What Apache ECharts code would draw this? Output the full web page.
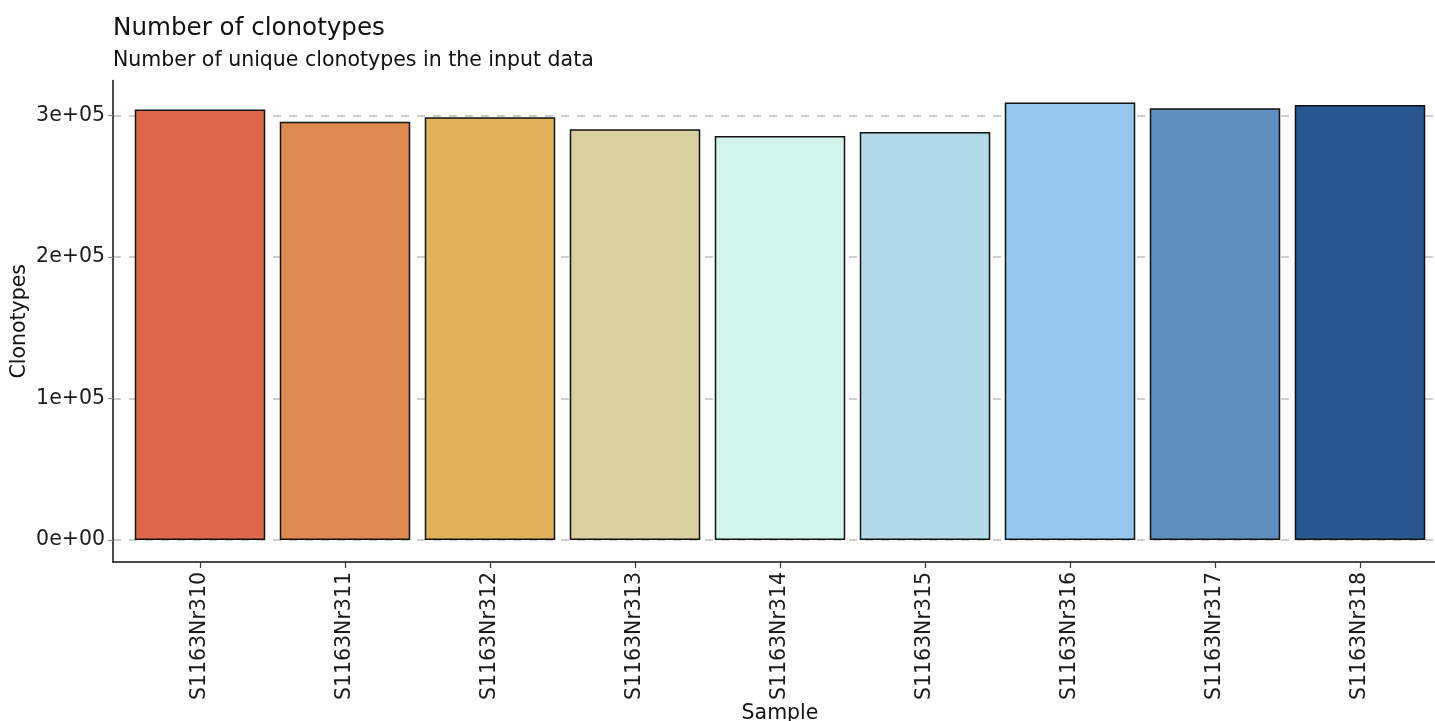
<!DOCTYPE html>
<html>
<head>
<meta charset="utf-8">
<script src="https://cdn.jsdelivr.net/npm/echarts@6/dist/echarts.min.js"></script>
<style>
html,body{margin:0;padding:0;background:#fff;}
#chart{width:1435px;height:721px;}
</style>
</head>
<body>
<div id="chart"></div>
<script>
const categories = ['S1163Nr310','S1163Nr311','S1163Nr312','S1163Nr313','S1163Nr314','S1163Nr315','S1163Nr316','S1163Nr317','S1163Nr318'];
const clonotypes = [304400, 295800, 298900, 290400, 285700, 288500, 309400, 305200, 307500];
const barColors = ['#DF6749','#DF8B50','#E1B15C','#D8D0A1','#D1F3EA','#B1DAE6','#97C6EC','#5E8DBE','#285792'];
const yTicks = [0, 100000, 200000, 300000];
const yTickLabels = ['0e+00','1e+05','2e+05','3e+05'];

// discrete positions 1..n, with ggplot-style 0.6 unit padding on each side
const positions = categories.map((c, i) => i + 1);
const maxV = Math.max(...clonotypes);
const pad = maxV * 0.05;

const chart = echarts.init(document.getElementById('chart'));
const font = 'DejaVu Sans';
chart.setOption({
  animation: false,
  backgroundColor: '#ffffff',
  title: {
    text: 'Number of clonotypes',
    subtext: 'Number of unique clonotypes in the input data',
    left: 113, top: 16,
    padding: 0,
    itemGap: 9,
    textStyle: {fontFamily: font, fontSize: 24.6, fontWeight: 'normal', color: '#111'},
    subtextStyle: {fontFamily: font, fontSize: 20.5, color: '#111'}
  },
  grid: {left: 113, right: -12, top: 80.5, bottom: 159, containLabel: false, outerBoundsMode: 'none'},
  xAxis: {
    type: 'value',
    min: 0.4,
    max: categories.length + 0.6,
    name: 'Sample',
    nameLocation: 'middle',
    nameGap: 141,
    nameMoveOverlap: false,
    nameTextStyle: {fontFamily: font, fontSize: 20.5, color: '#111'},
    axisLine: {show: true, onZero: false, lineStyle: {color: '#111', width: 1.5}},
    axisTick: {show: true, length: 6, customValues: positions, lineStyle: {color: '#333', width: 1.2}},
    axisLabel: {
      customValues: positions,
      rotate: 90, fontFamily: font, fontSize: 20.5, color: '#1a1a1a', margin: 10,
      formatter: function (v) { return categories[Math.round(v) - 1] || ''; }
    },
    splitLine: {show: false}
  },
  yAxis: {
    type: 'value',
    min: -pad,
    max: maxV + pad,
    name: 'Clonotypes',
    nameLocation: 'middle',
    nameGap: 83,
    nameMoveOverlap: false,
    nameRotate: 90,
    nameTextStyle: {fontFamily: font, fontSize: 20.5, color: '#111'},
    axisLine: {show: true, onZero: false, lineStyle: {color: '#111', width: 1.5}},
    axisTick: {show: true, length: 5, customValues: yTicks, lineStyle: {color: '#888', width: 1.2}},
    axisLabel: {
      customValues: yTicks,
      fontFamily: font, fontSize: 20.5, color: '#1a1a1a', margin: 8,
      formatter: function (v) { const i = yTicks.indexOf(v); return i >= 0 ? yTickLabels[i] : ''; }
    },
    splitLine: {show: true, lineStyle: {color: '#bdbdbd', width: 1.5, type: [8, 8]}}
  },
  series: [{
    type: 'bar',
    data: clonotypes.map((v, i) => ({value: [positions[i], v], itemStyle: {color: barColors[i]}})),
    barCategoryGap: '10%',
    itemStyle: {borderColor: '#111', borderWidth: 1.5}
  }]
});
</script>
</body>
</html>
